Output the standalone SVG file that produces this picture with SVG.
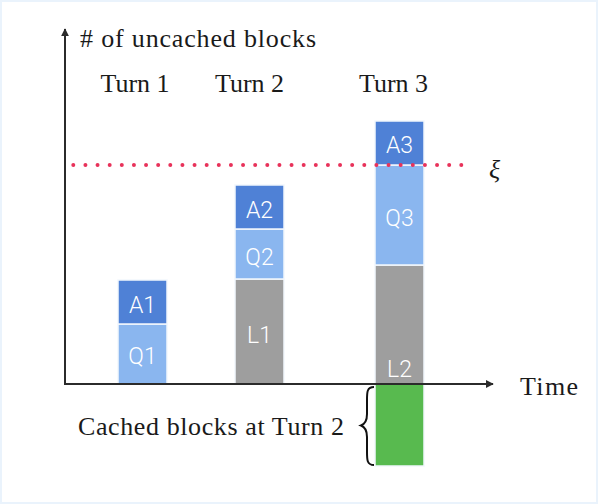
<svg xmlns="http://www.w3.org/2000/svg" width="598" height="504" viewBox="0 0 598 504">
<defs>
<style>
.serif{font-family:"Liberation Serif","Times New Roman",serif;font-size:26px;fill:#1a1a1a}
.turn{text-anchor:middle}
.lbl{font-family:Roboto,"Open Sans","Liberation Sans",sans-serif;font-weight:300;font-size:23px;fill:#ffffff;text-anchor:middle}
.a{fill:#4f81d6;stroke:#f2f7fd;stroke-width:1.5}
.q{fill:#8ab6ef;stroke:#f2f7fd;stroke-width:1.5}
.l{fill:#9e9e9e;stroke:#f2f7fd;stroke-width:1.5}
.g{fill:#58ba4f;stroke:#f2f7fd;stroke-width:1.5}
.axis{stroke:#2b2b2b;stroke-width:2;fill:none}
</style>
<marker id="arr" viewBox="0 0 10 10" refX="9" refY="5" markerWidth="8" markerHeight="8" markerUnits="userSpaceOnUse" orient="auto">
<path d="M0,0 L10,5 L0,10 Z" fill="#2b2b2b"/>
</marker>
</defs>
<rect x="0" y="0" width="598" height="504" fill="#ffffff"/>
<rect x="1" y="1" width="596" height="502" fill="none" stroke="#eaf3fc" stroke-width="2"/>

<g id="bar-turn1">
<rect class="q" x="118" y="324" width="49" height="60"/>
<rect class="a" x="118" y="280" width="49" height="44"/>
<text class="lbl" x="142.5" y="313">A1</text>
<text class="lbl" x="142.5" y="364">Q1</text>
</g>
<g id="bar-turn2">
<rect class="l" x="235" y="279" width="49" height="105"/>
<rect class="q" x="235" y="229" width="49" height="50"/>
<rect class="a" x="235" y="185" width="49" height="44"/>
<text class="lbl" x="259.5" y="218">A2</text>
<text class="lbl" x="259.5" y="265">Q2</text>
<text class="lbl" x="259.5" y="343">L1</text>
</g>
<g id="bar-turn3">
<rect class="g" x="375" y="384" width="49" height="82"/>
<rect class="l" x="375" y="265" width="49" height="119"/>
<rect class="q" x="375" y="165" width="49" height="100"/>
<rect class="a" x="375" y="121" width="49" height="44"/>
<text class="lbl" x="399.5" y="153">A3</text>
<text class="lbl" x="399.5" y="226">Q3</text>
<text class="lbl" x="399.5" y="377">L2</text>
</g>

<g id="connectors">
<line class="axis" x1="65" y1="385" x2="65" y2="29" marker-end="url(#arr)"/>
<line class="axis" x1="64" y1="384" x2="493" y2="384" marker-end="url(#arr)"/>
<line x1="73.3" y1="165" x2="462" y2="165" stroke="#e8325a" stroke-width="4" stroke-linecap="round" stroke-dasharray="0 12.125"/>
<path d="M374,387 C367,387 367,392 367,400 L367,414 C367,421 365,424 361,425.5 C365,427 367,430 367,437 L367,452 C367,460 367,465 374,465" fill="none" stroke="#111" stroke-width="2"/>
</g>

<g id="labels">
<text class="serif" x="80" y="47" textLength="236">#<tspan> of uncached blocks</tspan></text>
<text class="serif turn" x="135" y="92">Turn 1</text>
<text class="serif turn" x="249.5" y="92">Turn 2</text>
<text class="serif turn" x="393.5" y="92">Turn 3</text>
<text class="serif" x="489" y="178" font-size="28" font-style="italic">ξ</text>
<text class="serif" x="520" y="395" textLength="58">Time</text>
<text class="serif" x="78" y="435" textLength="266">Cached blocks at Turn 2</text>
</g>
</svg>
